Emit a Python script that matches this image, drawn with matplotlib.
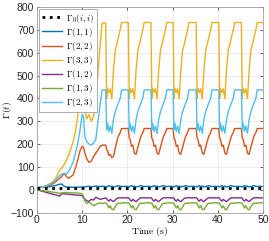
import numpy as np
import matplotlib
matplotlib.use("Agg")
import matplotlib.pyplot as plt

plt.rcParams['mathtext.fontset'] = 'cm'
plt.rcParams['font.family'] = ['Liberation Sans', 'DejaVu Sans']

# ---------------- data ----------------
t_early = [0, 1, 2, 3, 4, 5, 5.5, 6, 6.5, 7, 8, 8.5, 9, 9.5, 10, 10.3, 10.6,
           11, 11.5, 12, 12.5, 13, 13.5, 14, 14.4, 15.2]
t_cycles = [
    [15.4, 15.6, 15.9, 16.2, 16.55, 16.9, 17.3, 17.7, 18.0, 18.4, 18.7, 19.5, 20.2],
    [20.4, 20.6, 20.9, 21.2, 21.55, 21.9, 22.3, 22.7, 23.0, 23.4, 23.7, 24.5, 25.2],
    [25.4, 25.6, 25.9, 26.2, 26.55, 26.9, 27.3, 27.7, 28.0, 28.4, 28.7, 29.5, 30.1],
    [30.3, 30.5, 30.8, 31.1, 31.45, 31.8, 32.2, 32.6, 32.9, 33.3, 33.6, 34.4, 35.2],
    [35.4, 35.6, 35.9, 36.2, 36.55, 36.9, 37.3, 37.7, 38.0, 38.4, 38.7, 39.5, 40.2],
    [40.4, 40.6, 40.9, 41.2, 41.55, 41.9, 42.3, 42.7, 43.0, 43.4, 43.7, 44.5, 45.2],
    [45.4, 45.6, 45.9, 46.2, 46.55, 46.9, 47.3, 47.7, 48.0, 48.4, 48.7, 49.5, 50.0],
]

g0_value = 8  # Gamma_0(i,i)

g11_early = [10, 11, 12, 14, 18, 24, 25, 15, 12, 12, 11, 11, 11, 12, 12, 12, 13,
             14, 15, 13, 14, 16, 15, 14, 15, 14]
g11_cycles = [[12, 15, 18, 14, 16, 12, 14, 16, 18, 15, 14, 15, 14]] * 7

g22_early = [10, 11, 14, 20, 32, 50, 58, 72, 58, 50, 65, 95, 130, 170, 190, 185, 160,
             135, 120, 125, 145, 160, 175, 190, 195, 195]
g22_cycles = [[175, 172, 150, 155, 140, 145, 180, 215, 235, 250, 268, 268, 268]] + \
             [[225, 220, 190, 195, 160, 155, 185, 215, 235, 250, 268, 268, 268]] * 6

g33_early = [10, 12, 18, 28, 45, 85, 95, 110, 130, 150, 210, 255, 320, 450, 730, 730, 350,
             310, 330, 300, 320, 380, 520, 640, 730, 730]
g33_cycles = [[400, 444, 425, 442, 398, 520, 610, 640, 668, 700, 732, 732, 732]] * 7

g12_early = [0, -6, -11, -17, -22, -28, -17, -18, -19, -20, -22, -23, -24, -25, -26, -35, -42,
             -48, -51, -42, -45, -33, -38, -42, -40, -36]
g12_cycles = [[-38, -45, -50, -42, -48, -52, -45, -38, -35, -36, -35, -36, -35]] * 7

g13_early = [0, -3, -6, -9, -12, -16, -14, -12, -12, -13, -14, -14, -15, -16, -18, -30, -50,
             -60, -55, -62, -70, -65, -60, -58, -60, -58]
g13_cycles = [[-60, -68, -80, -70, -85, -88, -75, -62, -58, -60, -58, -57, -58]] * 7

g23_early = [10, 12, 16, 25, 40, 62, 68, 72, 68, 80, 120, 160, 200, 260, 330, 320, 230,
             210, 200, 195, 205, 220, 300, 380, 437, 437]
g23_cycles = [[262, 291, 255, 279, 247, 306, 342, 364, 380, 400, 437, 437, 437]] * 7

labels = [r'$\Gamma_0(i,i)$', r'$\Gamma(1,1)$', r'$\Gamma(2,2)$', r'$\Gamma(3,3)$',
          r'$\Gamma(1,2)$', r'$\Gamma(1,3)$', r'$\Gamma(2,3)$']
colors = ['k', '#0072BD', '#D95319', '#EDB120', '#7E2F8E', '#77AC30', '#4DBEEE']

xticks = [0, 10, 20, 30, 40, 50]
yticks = [-100, 0, 100, 200, 300, 400, 500, 600, 700, 800]


def join(early, cycles):
    out = list(early)
    for c in cycles:
        out += list(c)
    return np.array(out, dtype=float)


t = join(t_early, t_cycles)
series = [
    np.full_like(t, g0_value),
    join(g11_early, g11_cycles),
    join(g22_early, g22_cycles),
    join(g33_early, g33_cycles),
    join(g12_early, g12_cycles),
    join(g13_early, g13_cycles),
    join(g23_early, g23_cycles),
]

# ---------------- figure ----------------
fig = plt.figure(figsize=(2.69, 2.41), dpi=100)
ax = fig.add_axes([0.1375, 0.118, 0.8405, 0.853])

for i, (y, lab, col) in enumerate(zip(series, labels, colors)):
    if i == 0:
        ax.plot(t, y, ':', color=col, lw=2.0, label=lab, zorder=10)
    else:
        ax.plot(t, y, '-', color=col, lw=1.0, label=lab)

ax.set_xlim(0, 50)
ax.set_ylim(-100, 800)
ax.set_xticks(xticks)
ax.set_yticks(yticks)
ax.tick_params(direction='in', labelsize=7.5, length=2.5, width=0.5,
               colors='#262626', top=True, right=True, pad=2)
ax.grid(True, color='#e6e6e6', lw=0.5)
ax.set_axisbelow(True)
for s in ax.spines.values():
    s.set_color('#a0a0a0')
    s.set_linewidth(0.6)

ax.set_xlabel(r'$\mathrm{Time\ (s)}$', fontsize=7)
ax.xaxis.set_label_coords(0.5, -0.062)
ax.set_ylabel(r'$\Gamma(t)$', fontsize=7)
ax.yaxis.set_label_coords(-0.1, 0.5)

leg = ax.legend(loc='upper left', fontsize=6.5, handlelength=2.3, handletextpad=0.4,
                labelspacing=0.12, borderpad=0.3, borderaxespad=0.2,
                fancybox=False, framealpha=1, edgecolor='#a0a0a0')
leg.get_frame().set_linewidth(0.6)

fig.savefig('out.png', dpi=100)
